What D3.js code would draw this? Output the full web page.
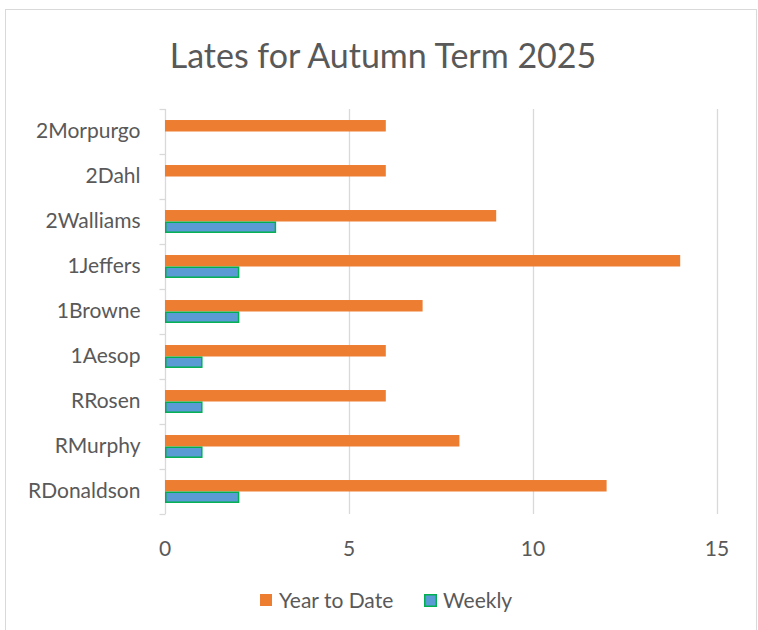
<!DOCTYPE html>
<html>
<head>
<meta charset="utf-8">
<script src="https://cdn.jsdelivr.net/npm/d3@7"></script>
<style>
  body { margin: 0; background: #fff; }
  text { font-family: Lato, 'Open Sans', sans-serif; fill: #595959; }
</style>
</head>
<body>
<svg id="chart" width="758" height="630"></svg>
<script>
const width = 758
const height = 630

// data
const classes = ['2Morpurgo', '2Dahl', '2Walliams', '1Jeffers', '1Browne', '1Aesop', 'RRosen', 'RMurphy', 'RDonaldson']
const yearToDate = [6, 6, 9, 14, 7, 6, 6, 8, 12]
const weekly = [0, 0, 3, 2, 2, 1, 1, 1, 2]
const xTicks = [0, 5, 10, 15]
const seriesNames = ['Year to Date', 'Weekly']

const margin = { left: 165, top: 109, right: 40, bottom: 116 }

const svg = d3.select('#chart')

// chart frame
svg.append('rect')
    .attr('x', 5.5)
    .attr('y', 9.5)
    .attr('width', 751)
    .attr('height', 640)
    .attr('fill', 'white')
    .attr('stroke', '#d9d9d9')

const x = d3.scaleLinear()
    .domain([0, 15])
    .range([margin.left, 717])

const y = d3.scaleBand()
    .domain(classes)
    .range([margin.top, height - margin.bottom])

const barH = y.bandwidth() * 0.255

// gridlines
svg.append('g')
    .selectAll('line')
    .data(xTicks.slice(1))
    .join('line')
    .attr('x1', d => x(d) + 0.5)
    .attr('x2', d => x(d) + 0.5)
    .attr('y1', y.range()[0])
    .attr('y2', y.range()[1])
    .attr('stroke', '#d9d9d9')
    .attr('stroke-width', 1.3)

// x tick labels
svg.append('g')
    .selectAll('text')
    .data(xTicks)
    .join('text')
    .attr('x', d => x(d))
    .attr('y', 556)
    .attr('text-anchor', 'middle')
    .attr('font-size', 21)
    .text(d => d)

// y axis
const yAxis = svg.append('g')
    .attr('transform', `translate(${margin.left + 0.5},0)`)
yAxis.append('line')
    .attr('y1', y.range()[0])
    .attr('y2', y.range()[1])
    .attr('stroke', '#d9d9d9')
    .attr('stroke-width', 1.3)
yAxis.selectAll('.tk')
    .data(classes.concat(['end']))
    .join('line')
    .attr('class', 'tk')
    .attr('x1', -6)
    .attr('x2', 0)
    .attr('y1', (d, i) => y.range()[0] + i * y.step() + 0.5)
    .attr('y2', (d, i) => y.range()[0] + i * y.step() + 0.5)
    .attr('stroke', '#d9d9d9')
    .attr('stroke-width', 1.3)
yAxis.selectAll('text')
    .data(classes)
    .join('text')
    .attr('x', -25)
    .attr('y', d => y(d) + y.bandwidth() / 2)
    .attr('dy', '0.32em')
    .attr('text-anchor', 'end')
    .attr('font-size', 21)
    .text(d => d)

// bars
svg.append('g')
    .selectAll('rect')
    .data(classes)
    .join('rect')
    .attr('x', x(0))
    .attr('y', d => y(d) + y.bandwidth() / 2 - barH)
    .attr('width', (d, i) => x(yearToDate[i]) - x(0))
    .attr('height', barH)
    .attr('fill', '#ed7d31')

svg.append('g')
    .selectAll('rect')
    .data(classes.filter((d, i) => weekly[i] > 0))
    .join('rect')
    .attr('x', x(0) + 0.75)
    .attr('y', d => y(d) + y.bandwidth() / 2 + 0.75)
    .attr('width', d => x(weekly[classes.indexOf(d)]) - x(0) - 0.75)
    .attr('height', barH - 1.5)
    .attr('fill', '#5b9bd5')
    .attr('stroke', '#00b050')
    .attr('stroke-width', 1.5)

// title
svg.append('text')
    .attr('x', 383)
    .attr('y', 68)
    .attr('text-anchor', 'middle')
    .attr('font-size', 34)
    .text('Lates for Autumn Term 2025')

// legend
const legend = svg.append('g')
legend.append('rect')
    .attr('x', 260).attr('y', 594)
    .attr('width', 12).attr('height', 12)
    .attr('fill', '#ed7d31')
legend.append('text')
    .attr('x', 279).attr('y', 608)
    .attr('font-size', 21)
    .text(seriesNames[0])
legend.append('rect')
    .attr('x', 424.75).attr('y', 594.75)
    .attr('width', 11.5).attr('height', 11.5)
    .attr('fill', '#5b9bd5')
    .attr('stroke', '#00b050')
    .attr('stroke-width', 1.5)
legend.append('text')
    .attr('x', 443).attr('y', 608)
    .attr('font-size', 21)
    .text(seriesNames[1])
</script>
</body>
</html>
